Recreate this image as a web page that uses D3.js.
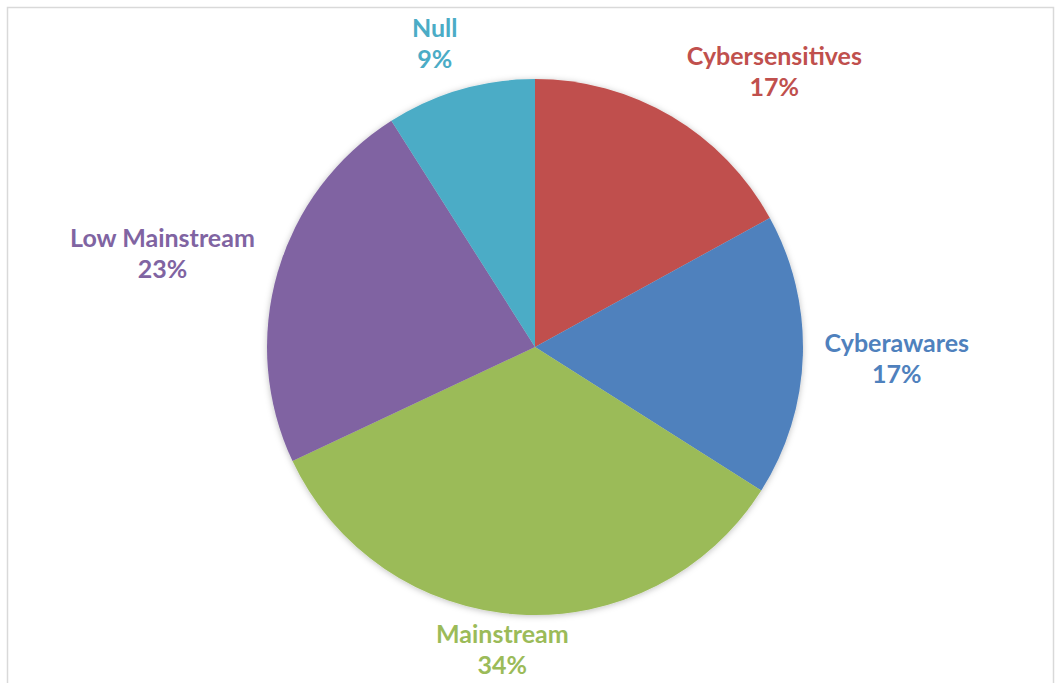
<!DOCTYPE html>
<html>
<head>
<meta charset="utf-8">
<script src="https://cdn.jsdelivr.net/npm/d3@7"></script>
<style>
  html, body { margin: 0; padding: 0; background: #ffffff; }
  svg { display: block; }
</style>
</head>
<body>
<svg id="chart" width="1055" height="683"></svg>
<script>
// Segment shares, clockwise from 12 o'clock
const categories = ["Cybersensitives", "Cyberawares", "Mainstream", "Low Mainstream", "Null"];
const shares = [17, 17, 34, 23, 9];
const colors = ["#C0504D", "#4F81BD", "#9BBB59", "#8064A2", "#4BACC6"];

const W = 1055, H = 683;
const cx = 535, cy = 347, R = 268;
const labelRadius = R + 45;
const lineGap = 31;
// Fine placement of each label around its wedge (px)
const labelNudge = {
  "Cybersensitives": [80, -5],
  "Cyberawares": [49, 3],
  "Mainstream": [-13, -9],
  "Low Mainstream": [-72, -5],
  "Null": [-13, -2]
};

const svg = d3.select("#chart");

// frame
svg.append("rect")
  .attr("x", 7.5).attr("y", 7.5)
  .attr("width", W - 9).attr("height", H + 20)
  .attr("fill", "#ffffff")
  .attr("stroke", "#d9d9d9").attr("stroke-width", 1.5);

const defs = svg.append("defs");
const shadow = defs.append("filter").attr("id", "soft")
  .attr("x", "-10%").attr("y", "-10%").attr("width", "120%").attr("height", "120%");
shadow.append("feDropShadow")
  .attr("dx", 0).attr("dy", 1)
  .attr("stdDeviation", 3)
  .attr("flood-color", "#000000").attr("flood-opacity", 0.25);

const data = categories.map((c, i) => ({ name: c, value: shares[i], color: colors[i] }));

const pie = d3.pie().value(d => d.value).sort(null);
const arcs = pie(data);
const arc = d3.arc().innerRadius(0).outerRadius(R);

const g = svg.append("g").attr("transform", `translate(${cx},${cy})`);

g.append("g").attr("filter", "url(#soft)")
  .selectAll("path")
  .data(arcs)
  .join("path")
  .attr("d", arc)
  .attr("fill", d => d.data.color);

// labels: name and percentage, placed outside each wedge
const labels = g.append("g")
  .selectAll("text")
  .data(arcs)
  .join("text")
  .attr("text-anchor", "middle")
  .attr("font-family", "Lato, 'Open Sans', sans-serif")
  .attr("font-weight", "bold")
  .attr("font-size", 25)
  .attr("fill", d => d.data.color)
  .attr("transform", d => {
    const a = (d.startAngle + d.endAngle) / 2;
    const n = labelNudge[d.data.name];
    const x = Math.sin(a) * labelRadius + n[0];
    const y = -Math.cos(a) * labelRadius + n[1];
    return `translate(${x},${y})`;
  });

labels.append("tspan")
  .attr("x", 0).attr("y", -lineGap / 2 + 8)
  .text(d => d.data.name);
labels.append("tspan")
  .attr("x", 0).attr("y", lineGap / 2 + 8)
  .text(d => d3.format(".0%")(d.value / d3.sum(shares)));
</script>
</body>
</html>
